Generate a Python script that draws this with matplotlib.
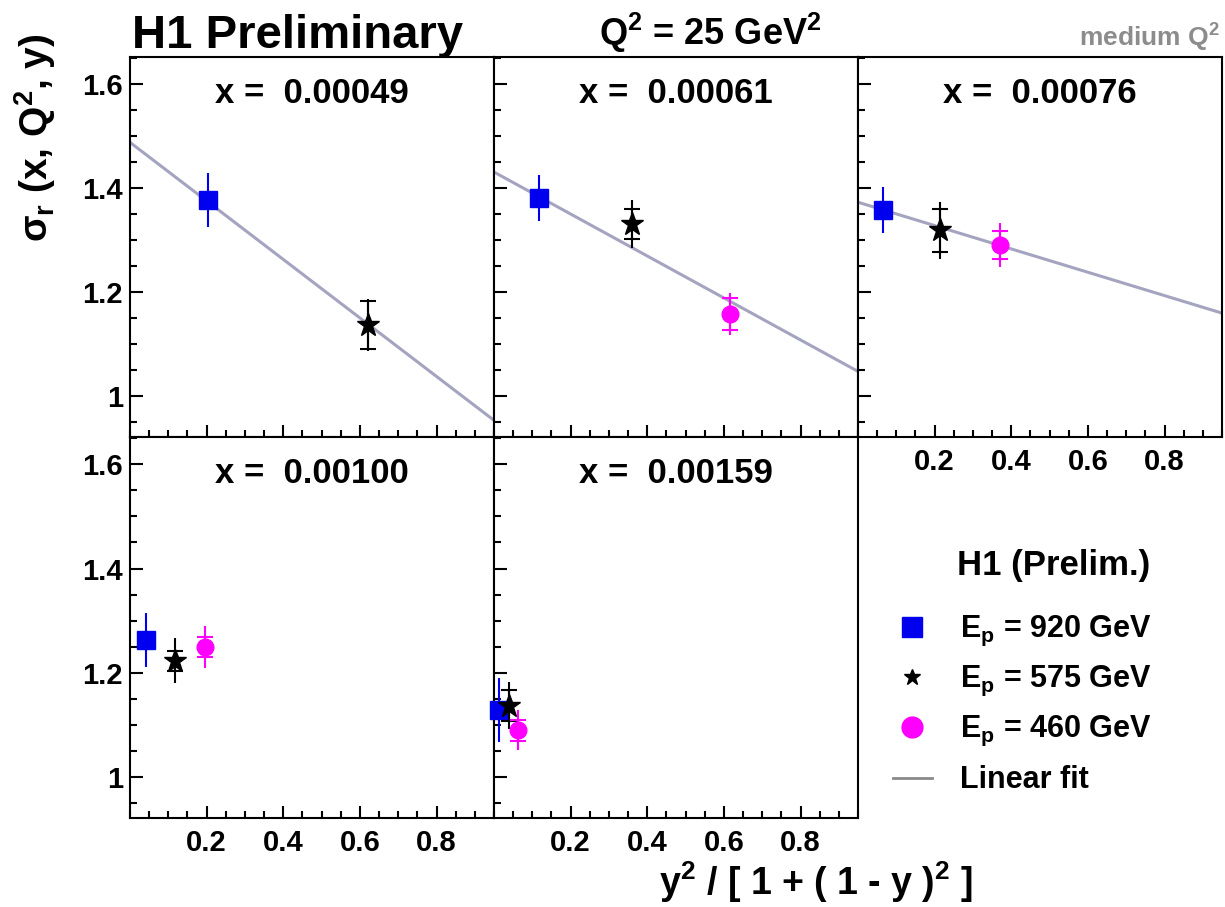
import matplotlib
matplotlib.use("Agg")
from matplotlib import pyplot as plt
from matplotlib.ticker import MultipleLocator, FixedLocator
import numpy

plt.rcParams['font.family'] = ['Liberation Sans', 'DejaVu Sans']
plt.rcParams['font.weight'] = 'bold'
plt.rcParams['mathtext.fontset'] = 'custom'
plt.rcParams['mathtext.rm'] = 'Liberation Sans:bold'
plt.rcParams['mathtext.it'] = 'Liberation Sans:bold'
plt.rcParams['mathtext.bf'] = 'Liberation Sans:bold'
plt.rcParams['mathtext.default'] = 'rm'

# x bins, one panel each
x_bins = ["0.00049", "0.00061", "0.00076", "0.00100", "0.00159"]

# Ep = 920 GeV
ep920_y = [0.204, 0.118, 0.065, 0.042, 0.013]
ep920_sig = [1.377, 1.381, 1.358, 1.263, 1.129]
ep920_err = [0.052, 0.045, 0.044, 0.052, 0.062]

# Ep = 575 GeV
ep575_y = [0.620, 0.360, 0.214, 0.118, 0.039]
ep575_sig = [1.138, 1.331, 1.319, 1.223, 1.137]
ep575_stat = [0.046, 0.029, 0.041, 0.019, 0.030]
ep575_tot = [0.050, 0.046, 0.055, 0.043, 0.045]

# Ep = 460 GeV (not measured in first bin)
ep460_y = [None, 0.615, 0.371, 0.196, 0.063]
ep460_sig = [None, 1.158, 1.291, 1.250, 1.090]
ep460_stat = [None, 0.031, 0.027, 0.019, 0.020]
ep460_tot = [None, 0.040, 0.042, 0.040, 0.038]

# linear fit: value at left (y=0) and right (y=0.95) edge
fit_x = [0.0, 0.95]
fit_left = [1.488, 1.431, 1.373, None, None]
fit_right = [0.954, 1.048, 1.160, None, None]

fit_color = '#a4a4c0'
W, H = 1225.0, 907.0

fig = plt.figure(figsize=(12.25, 9.07), dpi=100)

# panel boxes in pixels: left, top, right, bottom
boxes = [(130, 57, 494, 437), (494, 57, 858, 437), (858, 57, 1222, 437),
         (130, 437, 494, 818), (494, 437, 858, 818)]

for i in range(5):
    l, t, r, b = boxes[i]
    ax = fig.add_axes([l / W, (H - b) / H, (r - l) / W, (b - t) / H])
    ax.set_xlim(0, 0.95)
    ax.set_ylim(0.922, 1.652)

    if fit_left[i] is not None:
        ax.plot(fit_x, [fit_left[i], fit_right[i]], color=fit_color, lw=2.2, zorder=1)

    # 920 GeV: total error only
    ax.errorbar([ep920_y[i]], [ep920_sig[i]], yerr=[ep920_err[i]], fmt='s', color='#0000ee',
                ms=13.5, ecolor='#0000ee', elinewidth=1.5, capsize=0, clip_on=False, zorder=3)
    # 575 GeV: total error line + stat caps
    ax.errorbar([ep575_y[i]], [ep575_sig[i]], yerr=[ep575_tot[i]], fmt='none', ecolor='black',
                elinewidth=1.5, capsize=0, zorder=3)
    ax.errorbar([ep575_y[i]], [ep575_sig[i]], yerr=[ep575_stat[i]], fmt='*', color='black',
                ms=17, ecolor='black', elinewidth=1.5, capsize=6, capthick=1.5, zorder=4)
    if ep460_y[i] is not None:
        ax.errorbar([ep460_y[i]], [ep460_sig[i]], yerr=[ep460_tot[i]], fmt='none', ecolor='#ff00ff',
                    elinewidth=1.5, capsize=0, zorder=3)
        ax.errorbar([ep460_y[i]], [ep460_sig[i]], yerr=[ep460_stat[i]], fmt='o', color='#ff00ff',
                    ms=12, ecolor='#ff00ff', elinewidth=1.5, capsize=6, capthick=1.5, zorder=4)

    ax.text(0.5, 0.905, "x =  " + x_bins[i], transform=ax.transAxes, ha='center', va='center',
            fontsize=25, fontweight='bold')

    ax.xaxis.set_major_locator(FixedLocator([0.2, 0.4, 0.6, 0.8]))
    ax.xaxis.set_minor_locator(MultipleLocator(0.05))
    ax.yaxis.set_major_locator(FixedLocator([1.0, 1.2, 1.4, 1.6]))
    ax.yaxis.set_minor_locator(MultipleLocator(0.05))
    ax.tick_params(which='both', direction='in', top=False, right=False, width=1.5)
    ax.tick_params(which='major', length=9, labelsize=21)
    ax.tick_params(axis='y', which='major', pad=5)
    ax.tick_params(axis='x', which='major', pad=8)
    ax.tick_params(which='minor', length=5)
    ax.set_xticklabels(["0.2", "0.4", "0.6", "0.8"])
    ax.set_yticklabels(["1", "1.2", "1.4", "1.6"])
    if i not in (0, 3):
        ax.tick_params(labelleft=False)
    if i in (0, 1):
        ax.tick_params(labelbottom=False)
    for s in ax.spines.values():
        s.set_linewidth(1.5)

# headers
fig.text(132 / W, 1 - 48 / H, "H1 Preliminary", fontsize=34, fontweight='bold', ha='left', va='baseline')
fig.text(710 / W, 1 - 45 / H, r"Q$^\mathrm{2}$ = 25 GeV$^\mathrm{2}$", fontsize=26, fontweight='bold',
         ha='center', va='baseline')
fig.text(1220 / W, 1 - 47 / H, r"medium Q$^\mathrm{2}$", fontsize=19, fontweight='bold', color='#8c8c8c',
         ha='right', va='baseline')

# axis titles
fig.text(35 / W, 1 - 138 / H, r"$\sigma_\mathrm{r}$ (x, Q$^\mathrm{2}$, y)", fontsize=28, fontweight='bold',
         rotation=90, ha='center', va='center')
fig.text(816 / W, 1 - 895 / H, r"y$^\mathrm{2}$ / [ 1 + ( 1 - y )$^\mathrm{2}$ ]", fontsize=27,
         fontweight='bold', ha='center', va='baseline')

# legend in the empty slot
lax = fig.add_axes([858 / W, (H - 818) / H, 364 / W, 381 / H])
lax.set_xlim(858, 1222)
lax.set_ylim(818, 437)
lax.axis('off')
lax.text(1054, 565, "H1 (Prelim.)", fontsize=25, fontweight='bold', ha='center', va='center')
leg_rows = [627, 677, 727, 778]
leg_labels = [r"E$_\mathrm{p}$ = 920 GeV", r"E$_\mathrm{p}$ = 575 GeV", r"E$_\mathrm{p}$ = 460 GeV", "Linear fit"]
lax.plot([912], [leg_rows[0]], 's', color='#0000ee', ms=15)
lax.plot([912], [leg_rows[1]], '*', color='black', ms=12)
lax.plot([912], [leg_rows[2]], 'o', color='#ff00ff', ms=15)
lax.plot([893, 932], [leg_rows[3], leg_rows[3]], color='#8a8a8a', lw=2)
for row, lab in zip(leg_rows, leg_labels):
    lax.text(960, row + 10, lab, fontsize=22, fontweight='bold', ha='left', va='baseline')

fig.savefig("out.png", dpi=100)
